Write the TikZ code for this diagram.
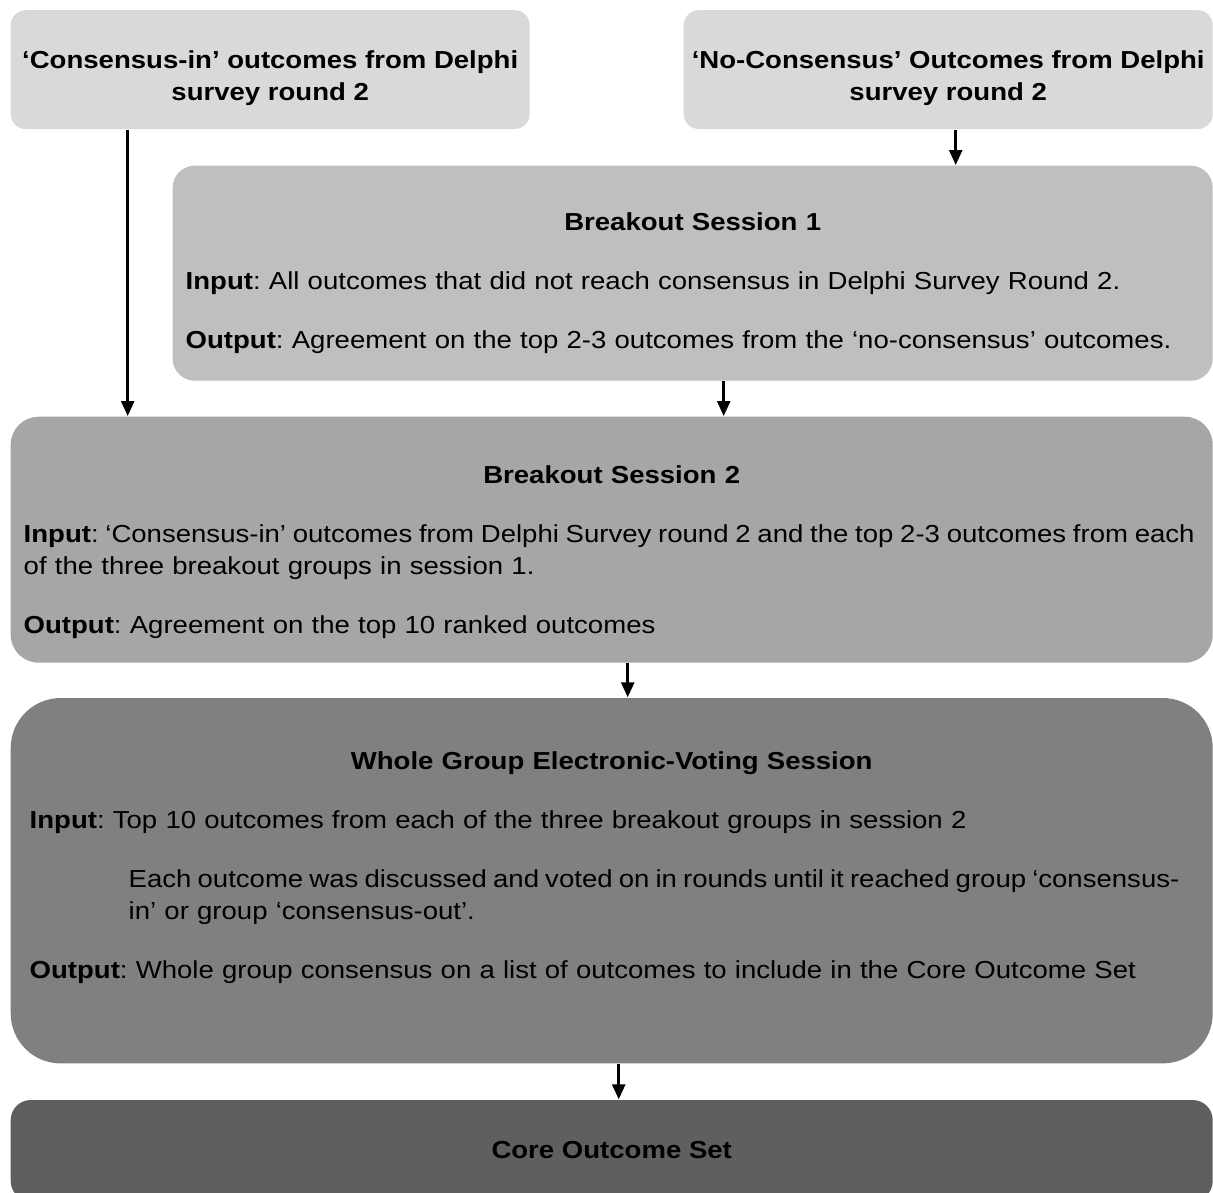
\documentclass[tikz,border=0pt]{standalone}
\usepackage{fontspec}
\setmainfont{Liberation Sans}[FakeStretch=1.12]
\usepackage{tikz}
\usetikzlibrary{arrows.meta,calc,positioning}
\tikzset{>={Triangle[width=1.3mm,length=1.5mm]}}
\definecolor{levA}{RGB}{217,217,217}
\definecolor{levB}{RGB}{191,191,191}
\definecolor{levC}{RGB}{166,166,166}
\definecolor{levD}{RGB}{128,128,128}
\definecolor{levE}{RGB}{95,95,95}
\newcommand{\boxfont}{\fontsize{7}{9.2}\selectfont\frenchspacing}
\newcommand{\tightsp}[1]{\spaceskip=#1\fontdimen2\font\relax}

\begin{document}
\begin{tikzpicture}[
  stage/.style={anchor=north west, inner ysep=0pt, font=\boxfont},
  delphi/.style={stage, align=center, inner xsep=0pt, font=\boxfont\bfseries},
  session/.style={stage, inner xsep=1.3mm},
  flow/.style={->, line width=0.7pt}]
\useasboundingbox[fill=white] (0,0) rectangle (12.13,-11.92);

% survey round 2 results
\node[delphi, fill=levA, rounded corners=1.5mm, minimum width=5.19cm,
  text height=0.905cm, text depth=0.283cm] (cin) at (0.10,-0.095)
  {‘Consensus-in’ outcomes from Delphi\\survey round 2};
\node[delphi, fill=levA, rounded corners=1.5mm, minimum width=5.29cm,
  text height=0.905cm, text depth=0.283cm] (ncon) at (6.83,-0.095)
  {‘No-Consensus’ Outcomes from Delphi\\survey round 2};

% breakout sessions
\node[session, fill=levB, rounded corners=2.2mm, text width=10.14cm,
  text height=0.65cm, text depth=1.50cm] (bs1) at (1.72,-1.65)
  {{\centering\bfseries Breakout Session 1\par}\vspace{7.6pt}
   \mbox{\textbf{Input}: All outcomes that did not reach consensus in Delphi Survey Round 2.}\par\vspace{7.6pt}
   \mbox{\textbf{Output}: Agreement on the top 2-3 outcomes from the ‘no-consensus’ outcomes.}};
\node[session, fill=levC, rounded corners=2.8mm, text width=11.76cm,
  text height=0.667cm, text depth=1.793cm] (bs2) at (0.10,-4.16)
  {{\centering\bfseries Breakout Session 2\par}\vspace{7.6pt}
   \mbox{\tightsp{0.88}\textbf{Input}: ‘Consensus-in’ outcomes from Delphi Survey round 2 and the top 2-3 outcomes from each}\\
   of the three breakout groups in session 1.\par\vspace{7.6pt}
   \textbf{Output}: Agreement on the top 10 ranked outcomes};

% voting
\node[stage, inner xsep=1.9mm, fill=levD, rounded corners=5mm, text width=11.64cm,
  text height=0.71cm, text depth=2.944cm] (vote) at (0.10,-6.973)
  {{\centering\bfseries Whole Group Electronic-Voting Session\par}\vspace{7.6pt}
   \textbf{Input}: Top 10 outcomes from each of the three breakout groups in session 2\par\vspace{7.6pt}
   {\leftskip=0.99cm \mbox{\tightsp{0.8}Each outcome was discussed and voted on in rounds until it reached group ‘consensus-}\\
   in’ or group ‘consensus-out’.\par}\vspace{7.6pt}
   \mbox{\textbf{Output}: Whole group consensus on a list of outcomes to include in the Core Outcome Set}};

\node[delphi, fill=levE, rounded corners=2mm, minimum width=12.02cm,
  text height=0.58cm, text depth=0.43cm] (cos) at (0.10,-10.993) {Core Outcome Set};

\draw[flow] ([xshift=-14.25mm]cin.south) -- ([xshift=-14.25mm]cin.south |- bs2.north);
\draw[flow] ([xshift=0.75mm]ncon.south) -- ([xshift=0.75mm]ncon.south |- bs1.north);
\draw[flow] ([xshift=3.1mm]bs1.south) -- ([xshift=3.1mm]bs1.south |- bs2.north);
\draw[flow] ([xshift=1.6mm]bs2.south) -- ([xshift=1.6mm]bs2.south |- vote.north);
\draw[flow] ([xshift=0.7mm]vote.south) -- ([xshift=0.7mm]vote.south |- cos.north);
\end{tikzpicture}
\end{document}
